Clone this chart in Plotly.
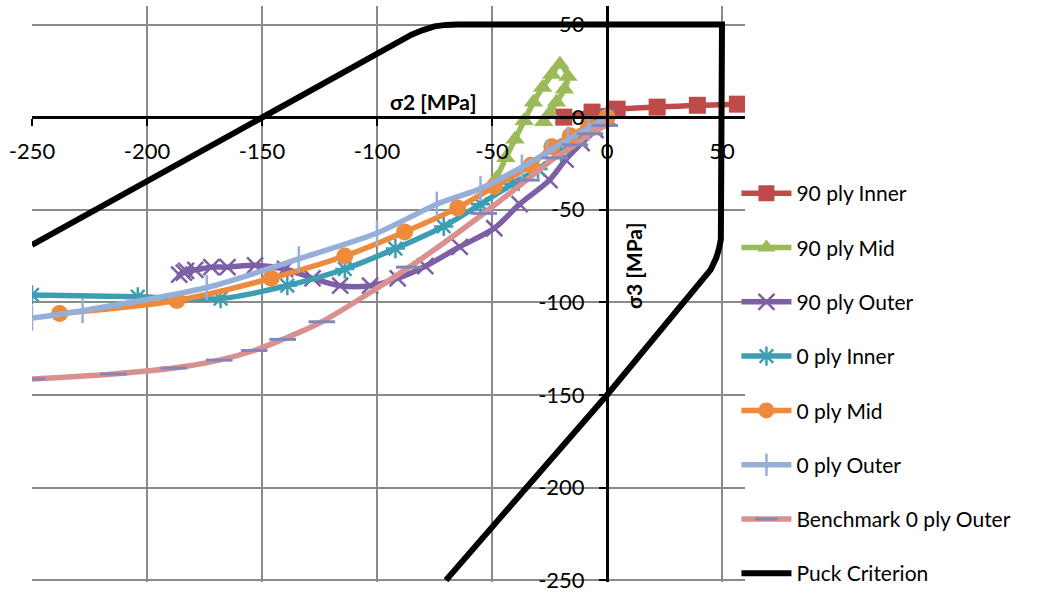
import plotly.graph_objects as go

# ---------------- data ----------------
inner90_x = [-18.8, -6.5, 4.4, 21.8, 39.3, 56.7]
inner90_y = [0.0, 2.7, 4.3, 5.4, 6.4, 7.0]

mid90_x = [-48, -44, -40, -36, -32, -28, -24, -20.5, -17, -18.5, -22, -25, -27.5]
mid90_y = [-33, -22, -12, -2, 8, 16, 23, 28.5, 22, 15, 8, 2, -2.5]

outer90_x = [0, -5, -11, -18, -25, -38, -49, -64, -79, -91, -103, -116, -128, -140,
             -153, -165, -172, -179, -184, -186, -183]
outer90_y = [0, -7, -14, -23, -34, -47, -60, -70, -80.5, -87, -91, -91, -87, -82,
             -80, -81, -81, -82.5, -84, -85, -83]

inner0_x = [0, -6, -12, -20, -30, -41, -55, -71, -92, -114, -139, -168, -204, -250]
inner0_y = [0, -5, -11, -19, -28, -36, -47, -59, -71, -82, -91, -98, -97, -96]

mid0_x = [0, -8, -16, -24, -33, -49, -65, -88, -114, -146, -187, -238]
mid0_y = [0, -5, -10, -16, -26, -37.5, -49, -62, -75, -87, -99, -106]

outer0_x = [0, -8, -17, -26, -37, -55, -74, -100, -134, -174, -228, -250]
outer0_y = [0, -6, -12, -19, -27, -38.6, -47, -62.6, -76.5, -92, -104.5, -108.5]

bench_x = [0, -1, -7.4, -14, -22.7, -35, -53.6, -86, -124, -141, -153.4, -168.6, -188.3, -214.6, -250]
bench_y = [0, -4.5, -9, -15, -22, -34, -52, -81, -110.5, -120, -126, -131.2, -135.5, -138.7, -141.4]

puck_x = [-250, -150, -90, -85, -80, -75, -70, -65, 50, 50, 49.5, 48.7, 47.5, 45, 0, -70]
puck_y = [-69, 0, 41.4, 44.5, 47, 49, 49.8, 50, 50, -60, -66, -71, -76, -82.5, -150, -250]

x_ticks = [-250, -200, -150, -100, -50, 0, 50]
y_ticks = [50, 0, -50, -100, -150, -200, -250]

# ---------------- figure ----------------
FONT = "Lato"
fig = go.Figure()

def add(name, xs, ys, color, symbol, msize, mcolor=None, mline=None, width=5.5):
    marker = dict(symbol=symbol, size=msize, color=mcolor or color)
    if mline is not None:
        marker["line"] = dict(color=mline[0], width=mline[1])
    fig.add_trace(go.Scatter(
        x=xs, y=ys, name=name, legendgroup=name,
        mode="lines+markers",
        line=dict(color=color, width=width, shape="spline", smoothing=0.8),
        marker=marker,
    ))

add("90 ply Inner", inner90_x, inner90_y, "#BE4B48", "square", 17)
add("90 ply Mid", mid90_x, mid90_y, "#9BBB59", "triangle-up", 17)
add("90 ply Outer", outer90_x, outer90_y, "#7D5FA6", "x-thin", 16, mline=("#7D5FA6", 2.5))
add("0 ply Inner", inner0_x, inner0_y, "#3C9DB3", "asterisk", 16, mline=("#3C9DB3", 2.5))
add("0 ply Mid", mid0_x, mid0_y, "#EE8A3C", "circle", 17)
add("0 ply Outer", outer0_x, outer0_y, "#95AFD9", "line-ns", 18, mline=("#95AFD9", 2.5))
add("Benchmark 0 ply Outer", bench_x, bench_y, "#D9918F", "line-ew", 19, mline=("#8585BA", 3))
fig.add_trace(go.Scatter(
    x=puck_x, y=puck_y, name="Puck Criterion", legendgroup="Puck Criterion",
    mode="lines", line=dict(color="black", width=6),
))

xr = [-250, 60]
yr = [-251, 60]
xpos = (0 - yr[0]) / (yr[1] - yr[0])   # where y=0 sits in paper coords
ypos = (0 - xr[0]) / (xr[1] - xr[0])   # where x=0 sits in paper coords

tickfont = dict(family=FONT, size=22, color="black")
fig.update_layout(
    width=1055, height=597,
    margin=dict(l=32, r=310, t=6, b=15, autoexpand=False),
    paper_bgcolor="white", plot_bgcolor="white",
    font=dict(family=FONT, color="black"),
    xaxis=dict(range=xr, tickvals=x_ticks, ticktext=[str(v) for v in x_ticks],
               showgrid=True, gridcolor="#8A8A8A", gridwidth=1.5,
               zeroline=False, showline=True, linecolor="black", linewidth=3,
               anchor="free", position=xpos, ticks="outside", ticklen=7, tickwidth=2,
               tickcolor="black", tickfont=tickfont, ticklabelstandoff=6,
               ticklabeloverflow="allow",
               automargin=False, domain=[0, 1]),
    yaxis=dict(range=yr, tickvals=y_ticks, ticktext=[str(v) for v in y_ticks],
               showgrid=True, gridcolor="#8A8A8A", gridwidth=1.5,
               zeroline=False, showline=True, linecolor="black", linewidth=3,
               anchor="free", position=ypos, ticks="outside", ticklen=7, tickwidth=2,
               tickcolor="black", tickfont=tickfont, ticklabelstandoff=10,
               ticklabeloverflow="allow",
               automargin=False, domain=[0, 1]),
    legend=dict(x=0.988, xanchor="left", y=0.71, yanchor="top",
                font=dict(family=FONT, size=21, color="black"),
                tracegroupgap=24, itemwidth=50, bgcolor="rgba(0,0,0,0)",
                traceorder="grouped"),
    showlegend=True,
)

fig.add_annotation(x=-75.4, y=8.6, xref="x", yref="y", text="<b>σ2 [MPa]</b>",
                   showarrow=False, font=dict(family=FONT, size=21, color="black"))
fig.add_annotation(x=11.8, y=-80.3, xref="x", yref="y", text="<b>σ3 [MPa]</b>",
                   showarrow=False, textangle=-90, font=dict(family=FONT, size=21, color="black"))

fig.write_html("out.html")
